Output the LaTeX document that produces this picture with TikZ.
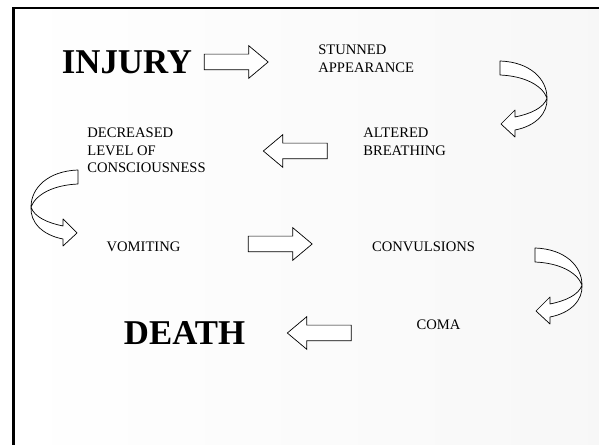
\documentclass[tikz,border=0pt]{standalone}
\usepackage{fontspec}
\setmainfont{Liberation Serif}
\usepackage{xcolor}
\usetikzlibrary{shapes.arrows}

\begin{document}
\begin{tikzpicture}[
        x=0.02cm, y=-0.02cm,
        stage/.style={font=\fontsize{8.3}{9.7}\selectfont, inner sep=0pt, align=left},
        bigstage/.style={font=\fontsize{19.8}{22}\selectfont\bfseries, inner sep=0pt},
        blockarrow/.style={single arrow, draw, fill=white, line width=0.4pt, inner xsep=0pt, inner ysep=0.15cm, minimum height=1.28cm, single arrow head extend=0.17cm, single arrow tip angle=80},
        ribbon/.style={draw, fill=white, line width=0.4pt, line join=round},
        bendarrow/.pic={
            \path[ribbon] (0,0) -- (0,14) .. controls (24,15) and (42,24) .. (47,37)
                .. controls (44,47) and (30,53) .. (15,56)
                -- (15,49) -- (1,63) -- (15,76) -- (15,69)
                .. controls (36,65) and (48,52) .. (47,37)
                .. controls (47,18) and (30,1) .. (0,0) -- cycle;
        }
    ]

    \useasboundingbox (0,0) rectangle (599,445);

    % Slide background and frame
    \shade[left color=white, right color=black!3] (13,8) rectangle (599,445);
    \draw[line width=1.4pt] (13.5,445) -- (13.5,8) -- (599,8);

    % Injury
    \node[bigstage, anchor=base] (injury) at (127,74) {INJURY};
    \node[blockarrow] (arrA) at (231.5,62) {};

    % Stunned appearance
    \node[stage, anchor=north west] (stunned) at (318,45) {STUNNED\\APPEARANCE};
    \pic (turnA) at (500,61) {bendarrow};

    % Altered breathing
    \node[stage, anchor=north west] (altered) at (363,128) {ALTERED\\BREATHING};
    \node[blockarrow, shape border rotate=180] (arrB) at (300,151) {};

    % Decreased level of consciousness
    \node[stage, anchor=north west] (decreased) at (87,128) {DECREASED\\LEVEL OF\\CONSCIOUSNESS};
    \pic[xscale=-1] (turnB) at (78,170) {bendarrow};

    % Vomiting
    \node[stage, anchor=base] (vomiting) at (143.5,252) {VOMITING};
    \node[blockarrow] (arrC) at (275.5,244) {};

    % Convulsions
    \node[stage, anchor=base] (convulsions) at (423.5,252) {CONVULSIONS};
    \pic (turnC) at (535,248) {bendarrow};

    % Coma
    \node[stage, anchor=base] (coma) at (438.5,330) {COMA};
    \node[blockarrow, shape border rotate=180] (arrD) at (324,333) {};

    % Death
    \node[bigstage, anchor=base] (death) at (184.5,345) {DEATH};

\end{tikzpicture}
\end{document}
